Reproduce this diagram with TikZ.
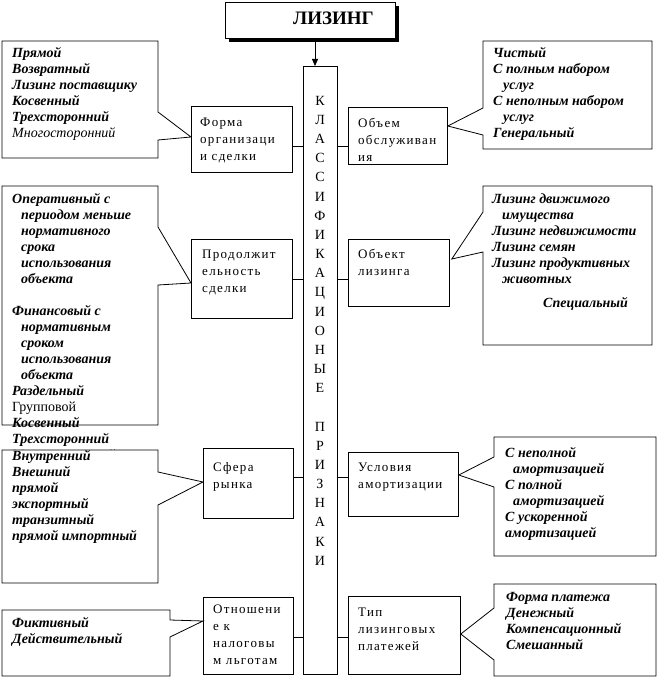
\documentclass[tikz,border=0pt]{standalone}
\usepackage{fontspec}
\setmainfont{Liberation Serif}
\newfontfamily\catfont{Liberation Serif}[LetterSpace=10]
\usetikzlibrary{arrows.meta}
\newcommand\myst{\rule{0pt}{12pt}}
\tikzset{
  box/.style={draw, line width=0.8pt, fill=white, inner sep=0pt, anchor=north west},
  call/.style={draw, line width=0.8pt, fill=white, line join=miter},
  ctext/.style={inner sep=0pt, anchor=north west, align=left, font=\fontsize{14}{16}\selectfont\bfseries\itshape},
  cattext/.style={inner sep=0pt, anchor=north west, align=left, font=\catfont\fontsize{13}{17}\selectfont},
  link/.style={line width=0.8pt},
}
\begin{document}
\begin{tikzpicture}[x=1pt,y=-1pt]
\useasboundingbox (0,0) rectangle (657,677);
% title
\fill (229,6) rectangle (399,42);
\node[box, minimum width=170pt, minimum height=36pt] (liz) at (225,2) {};
\node[inner sep=0pt, anchor=base west, font=\fontsize{19}{20}\selectfont\bfseries] (lizT) at (293,25) {ЛИЗИНГ};
% column
\node[box, minimum width=34pt, minimum height=608pt] (col) at (303,66) {};
\node[inner sep=0pt, anchor=north, align=center, font=\fontsize{14}{19.17}\selectfont] (colT) at (320,93)
 {\myst К\\Л\\А\\С\\С\\И\\Ф\\И\\К\\А\\Ц\\И\\О\\Н\\Ы\\Е\\[19.17pt]П\\Р\\И\\З\\Н\\А\\К\\И};
\draw[link, -{Triangle[length=7pt,width=6pt]}] (liz.south -| 315,0) -- (col.north -| 315,0);
% category boxes
\node[box, minimum width=101pt, minimum height=66pt] (forma) at (191,106) {};
\node[box, minimum width=101pt, minimum height=79pt] (prod) at (191,239) {};
\node[box, minimum width=90pt, minimum height=70pt] (sfera) at (203,448) {};
\node[box, minimum width=90pt, minimum height=77pt] (otn) at (203,597) {};
\node[box, minimum width=99pt, minimum height=57pt] (obsl) at (348,107) {};
\node[box, minimum width=101pt, minimum height=67pt] (obj) at (348,239) {};
\node[box, minimum width=110pt, minimum height=64pt] (uslov) at (348,452) {};
\node[box, minimum width=112pt, minimum height=78pt] (tipp) at (348,596) {};
\node[cattext] (formaT) at (200,114) {\myst Форма\\организаци\\и сделки};
\node[cattext] (prodT) at (202,246) {\myst Продолжит\\ельность\\сделки};
\node[cattext] (sferaT) at (213,459) {\myst Сфера\\рынка};
\node[cattext] (otnT) at (213,601) {\myst Отношени\\е к\\налоговы\\м льготам};
\node[cattext] (obslT) at (358,115) {\myst Объем\\обслуживан\\ия};
\node[cattext] (objT) at (358,246) {\myst Объект\\лизинга};
\node[cattext] (uslovT) at (358,459) {\myst Условия\\амортизации};
\node[cattext] (tippT) at (358,604) {\myst Тип\\лизинговых\\платежей};
% links to column
\draw[link] (forma.east |- 0,146) -- (col.west |- 0,146);
\draw[link] (obsl.west |- 0,146) -- (col.east |- 0,146);
\draw[link] (prod.east |- 0,279) -- (col.west |- 0,279);
\draw[link] (obj.west |- 0,279) -- (col.east |- 0,279);
\draw[link] (sfera.east |- 0,477) -- (col.west |- 0,477);
\draw[link] (uslov.west |- 0,477) -- (col.east |- 0,477);
\draw[link] (otn.east |- 0,637) -- (col.west |- 0,637);
\draw[link] (tipp.west |- 0,637) -- (col.east |- 0,637);
% callouts
\draw[call] (2,41) -- (158,41) -- (158,112) -- (forma.west |- 0,137) -- (158,140) -- (158,158) -- (2,158) -- cycle;
\node[ctext] (cA) at (12,45) {\myst Прямой\\Возвратный\\Лизинг поставщику\\Косвенный\\Трехсторонний\\{\mdseries Многосторонний}};
\draw[call] (483,41) -- (652,41) -- (652,149) -- (483,149) -- (483,135) -- (obsl.east |- 0,126) -- (483,108) -- cycle;
\node[ctext] (cB) at (493,45) {\myst Чистый\\С полным набором\\\hspace*{10pt}услуг\\С неполным набором\\\hspace*{10pt}услуг\\Генеральный};
\draw[call] (2,186) -- (158,186) -- (158,227) -- (prod.west |- 0,283) -- (158,285) -- (158,425) -- (2,425) -- cycle;
\node[ctext] (cC) at (12,191) {\myst Оперативный с\\\hspace*{9pt}периодом меньше\\\hspace*{9pt}нормативного\\\hspace*{9pt}срока\\\hspace*{9pt}использования\\\hspace*{9pt}объекта\\[16pt]Финансовый с\\\hspace*{9pt}нормативным\\\hspace*{9pt}сроком\\\hspace*{9pt}использования\\\hspace*{9pt}объекта\\Раздельный\\{\normalfont Групповой}\\Косвенный\\Трехсторонний\\{\mdseries Многосторонний}};
\draw[call] (483,186) -- (652,186) -- (652,345) -- (483,345) -- (483,252) -- ([xshift=2pt]obj.east |- 0,259) -- (483,212) -- cycle;
\node[ctext] (cD) at (492,191) {\myst Лизинг движимого\\\hspace*{10pt}имущества\\Лизинг недвижимости\\Лизинг семян\\Лизинг продуктивных\\\hspace*{10pt}животных\\[8pt]\hspace*{51pt}Специальный};
\draw[call] (2,450) -- (158,450) -- (158,472) -- (sfera.west |- 0,482) -- (158,505) -- (158,583) -- (2,583) -- cycle;
\node[ctext] (cE) at (12,448) {\myst Внутренний\\Внешний\\прямой\\экспортный\\транзитный\\прямой импортный};
\draw[call] (494,437) -- (656,437) -- (656,556) -- (494,556) -- (494,487) -- (uslov.east |- 0,475) -- (494,457) -- cycle;
\node[ctext] (cF) at (505,445) {\myst С неполной\\\hspace*{8pt}амортизацией\\С полной\\\hspace*{8pt}амортизацией\\С ускоренной\\амортизацией};
\draw[call] (494,584) -- (656,584) -- (656,676) -- (494,676) -- (494,660) -- (tipp.east |- 0,634) -- (494,608) -- cycle;
\node[ctext] (cG) at (506,589) {\myst Форма платежа\\Денежный\\Компенсационный\\Смешанный};
\draw[call] (2,610) -- (170,610) -- (170,620) -- (otn.west |- 0,621) -- (170,637) -- (170,676) -- (2,676) -- cycle;
\node[ctext] (cH) at (12,615) {\myst Фиктивный\\Действительный};
\end{tikzpicture}
\end{document}
